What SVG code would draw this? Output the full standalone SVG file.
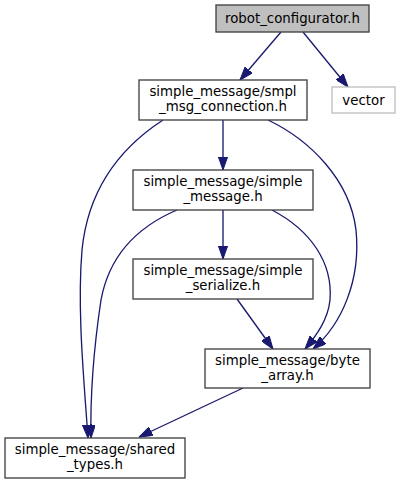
<svg xmlns="http://www.w3.org/2000/svg" width="400" height="484" viewBox="0 0 400 484">
<style>
.node rect{fill:#ffffff;stroke:#404040;stroke-width:1.33}
.node text{font-family:"DejaVu Sans",sans-serif;font-size:13.33px;fill:#000000;text-anchor:middle}
#n_robot rect{fill:#bfbfbf}
#n_vector rect{stroke:#bfbfbf}
.edges path{fill:none;stroke:#191970;stroke-width:1.33}
</style>
<defs>
<marker id="arr" markerUnits="userSpaceOnUse" viewBox="0 0 13.3 9.4" refX="13.3" refY="4.7" markerWidth="13.3" markerHeight="9.4" orient="auto">
<path d="M0,0 L13.3,4.7 L0,9.4 z" fill="#191970" stroke="#191970" stroke-width="1"/>
</marker>
</defs>
<rect width="400" height="484" fill="#ffffff"/>
<g class="edges">
<path d="M281,32 L240,80" marker-end="url(#arr)"/>
<path d="M303,32 L348,87" marker-end="url(#arr)"/>
<path d="M223,120 L223,170" marker-end="url(#arr)"/>
<path d="M163,120 C120,148 88,190 82,250 C77,310 84,380 88,438" marker-end="url(#arr)"/>
<path d="M177,210 C130,230 108,262 101,300 C95,340 90,390 91,438" marker-end="url(#arr)"/>
<path d="M223,210 L223,259" marker-end="url(#arr)"/>
<path d="M272,210 C310,230 333,262 330,300 C328,320 316,336 305,349" marker-end="url(#arr)"/>
<path d="M268,120 C310,140 350,180 356,230 C361,280 342,324 313,349" marker-end="url(#arr)"/>
<path d="M237,299 L273,349" marker-end="url(#arr)"/>
<path d="M243,388 L139,437" marker-end="url(#arr)"/>
</g>
<g id="n_robot" class="node"><rect x="216" y="5" width="153" height="27"/><text x="292.5" y="23">robot_configurator.h</text></g>
<g id="n_vector" class="node"><rect x="332" y="87" width="63" height="26"/><text x="363.5" y="104.5">vector</text></g>
<g id="n_smpl" class="node"><rect x="139" y="80" width="168" height="40"/><text x="223" y="96">simple_message/smpl</text><text x="223" y="110.7">_msg_connection.h</text></g>
<g id="n_simple_message" class="node"><rect x="133" y="170" width="180" height="40"/><text x="223" y="186">simple_message/simple</text><text x="223" y="200.7">_message.h</text></g>
<g id="n_simple_serialize" class="node"><rect x="133" y="259" width="180" height="40"/><text x="223" y="275">simple_message/simple</text><text x="223" y="289.7">_serialize.h</text></g>
<g id="n_byte_array" class="node"><rect x="205" y="349" width="165" height="39"/><text x="287.5" y="365">simple_message/byte</text><text x="287.5" y="379.7">_array.h</text></g>
<g id="n_shared_types" class="node"><rect x="5" y="438" width="180" height="40"/><text x="95" y="454">simple_message/shared</text><text x="95" y="468.7">_types.h</text></g>
</svg>
